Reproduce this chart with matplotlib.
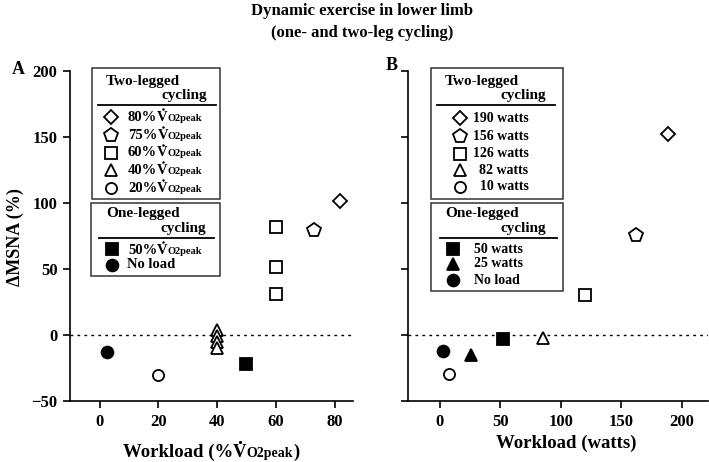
import numpy as np
import matplotlib
matplotlib.use("Agg")
import matplotlib.pyplot as plt
from matplotlib.lines import Line2D
from matplotlib.patches import Rectangle

plt.rcParams['font.family'] = ['Liberation Serif', 'DejaVu Serif']
plt.rcParams['font.weight'] = 'bold'

W, H = 709, 462

# ---- data: panel A (workload in %VO2peak) ----
a_two_80_x, a_two_80_y = [82], [102]
a_two_75_x, a_two_75_y = [73], [80]
a_two_60_x, a_two_60_y = [60, 60, 60], [82, 52, 31]
a_two_40_x, a_two_40_y = [40, 40, 40, 40], [4, -1, -5.5, -10]
a_two_20_x, a_two_20_y = [20], [-30.5]
a_one_50_x, a_one_50_y = [50], [-22]
a_one_nl_x, a_one_nl_y = [2.5], [-13]
a_xticks = [0, 20, 40, 60, 80]

# ---- data: panel B (workload in watts) ----
b_two_190_x, b_two_190_y = [189], [152.5]
b_two_156_x, b_two_156_y = [162], [76]
b_two_126_x, b_two_126_y = [120], [30.5]
b_two_82_x, b_two_82_y = [85], [-2]
b_two_10_x, b_two_10_y = [7.5], [-29.5]
b_one_50_x, b_one_50_y = [52], [-3]
b_one_25_x, b_one_25_y = [26], [-15]
b_one_nl_x, b_one_nl_y = [2.5], [-12]
b_xticks = [0, 50, 100, 150, 200]

yticks = [-50, 0, 50, 100, 150, 200]

a_two_labels = ["80%", "75%", "60%", "40%", "20%"]
b_two_labels = ["190 watts", "156 watts", "126 watts", "82 watts", "10 watts"]
b_one_labels = ["50 watts", "25 watts", "No load"]

# marker styles (marker, size, filled)
ST = {
    'dia': ('D', 7.2, False),
    'pent': ('p', 10.5, False),
    'sq': ('s', 8.5, False),
    'tri': ('^', 9.0, False),
    'circ': ('o', 8.0, False),
    'fsq': ('s', 8.5, True),
    'ftri': ('^', 8.5, True),
    'fcirc': ('o', 8.5, True),
}


def fx(px):
    return px / W


def fy(py):
    return 1 - py / H


def mk(key):
    m, s, filled = ST[key]
    return dict(marker=m, markersize=s, markeredgewidth=1.3, markeredgecolor='black',
                markerfacecolor='black' if filled else 'white', linestyle='none')


fig = plt.figure(figsize=(W / 100, H / 100), dpi=100)
fig.patch.set_facecolor('white')

axA = fig.add_axes([fx(70), fy(401), fx(353) - fx(70), fy(71.5) - fy(401)])
axB = fig.add_axes([fx(408), fy(401), fx(708) - fx(408), fy(71.5) - fy(401)])

for ax in (axA, axB):
    ax.set_ylim(-50, 200)
    ax.set_yticks(yticks)
    ax.spines['top'].set_visible(False)
    ax.spines['right'].set_visible(False)
    ax.spines['left'].set_linewidth(1.2)
    ax.spines['bottom'].set_linewidth(1.2)
    ax.tick_params(direction='out', length=5, width=1.2, labelsize=12, pad=4)
    ax.axhline(0, color='black', lw=1, ls=(0, (2, 3)), zorder=1)

axA.set_xlim(-10.1, 86.3)
axA.set_xticks(a_xticks)
axB.set_xlim(-26.4, 221.7)
axB.set_xticks(b_xticks)
axB.set_yticklabels([])
for ax in (axA, axB):
    for lab in ax.get_xticklabels() + ax.get_yticklabels():
        lab.set_fontweight('bold')

# panel A points
axA.plot(a_two_80_x, a_two_80_y, **mk('dia'), zorder=3)
axA.plot(a_two_75_x, a_two_75_y, **mk('pent'), zorder=3)
axA.plot(a_two_60_x, a_two_60_y, **mk('sq'), zorder=3)
axA.plot(a_two_40_x, a_two_40_y, **mk('tri'), zorder=3)
axA.plot(a_two_20_x, a_two_20_y, **mk('circ'), zorder=3)
axA.plot(a_one_50_x, a_one_50_y, **mk('fsq'), zorder=3)
axA.plot(a_one_nl_x, a_one_nl_y, **mk('fcirc'), zorder=3)

# panel B points
axB.plot(b_two_190_x, b_two_190_y, **mk('dia'), zorder=3)
axB.plot(b_two_156_x, b_two_156_y, **mk('pent'), zorder=3)
axB.plot(b_two_126_x, b_two_126_y, **mk('sq'), zorder=3)
axB.plot(b_two_82_x, b_two_82_y, **mk('tri'), zorder=3)
axB.plot(b_two_10_x, b_two_10_y, **mk('circ'), zorder=3)
axB.plot(b_one_50_x, b_one_50_y, **mk('fsq'), zorder=3)
axB.plot(b_one_25_x, b_one_25_y, **mk('ftri'), zorder=3)
axB.plot(b_one_nl_x, b_one_nl_y, **mk('fcirc'), zorder=3)

renderer = fig.canvas.get_renderer()


def rich(px, py, parts, ha='left'):
    """parts: list of (string, fontsize, dotted); py is the baseline in pixels"""
    texts = []
    for s, size, dot in parts:
        t = fig.text(0, fy(py), s, fontsize=size, fontweight='bold', va='baseline', ha='left')
        texts.append(t)
    widths = [t.get_window_extent(renderer).width for t in texts]
    total = sum(widths)
    start = px - total / 2 if ha == 'center' else (px - total if ha == 'right' else px)
    for t, w, (s, size, dot) in zip(texts, widths, parts):
        t.set_x(fx(start))
        if dot:
            # overdot of V-dot, drawn as a small round mark
            em = size * 100 / 72
            fig.add_artist(Line2D([fx(start + w / 2 + 0.5)], [fy(py - 0.8 * em)],
                                  transform=fig.transFigure, marker='o', markersize=size * 0.17,
                                  color='black', markeredgewidth=0, linestyle='none'))
        start += w
    return texts


def vo2(px, py, pre, big=10.5, small=7.5):
    rich(px, py, [(pre, big, False), ("V", big, True), ("O2peak", small, False)])


def box(x0, y0, x1, y1):
    fig.add_artist(Rectangle((fx(x0), fy(y1)), fx(x1) - fx(x0), fy(y0) - fy(y1),
                             transform=fig.transFigure, fill=False, edgecolor='#333333', lw=1.1))


def hline(x0, x1, py):
    fig.add_artist(Line2D([fx(x0), fx(x1)], [fy(py), fy(py)], transform=fig.transFigure,
                          color='black', lw=1.3))


def legmark(px, py, key):
    fig.add_artist(Line2D([fx(px)], [fy(py)], transform=fig.transFigure, **mk(key)))


def header(x_left, x_right, y1, y2, first):
    fig.text(fx(x_left), fy(y1), first, fontsize=11, fontweight='bold', ha='left', va='center')
    fig.text(fx(x_right), fy(y2), "cycling", fontsize=11, fontweight='bold', ha='right', va='center')


# ---- legend boxes panel A ----
rowsA = [117, 135, 152.5, 170, 187.5]
box(92, 68, 220, 199)
header(106, 207, 81, 95, "Two-legged")
hline(98, 216, 105)
for y, key, lab in zip(rowsA, ['dia', 'pent', 'sq', 'tri', 'circ'], a_two_labels):
    legmark(111, y, key)
    vo2(128, y + 4, lab)

box(91, 203, 220, 276)
header(106, 206, 214, 228.5, "One-legged")
hline(99, 214, 237.5)
legmark(111.5, 249.5, 'fsq')
vo2(128, 253.5, "50%")
legmark(111.5, 265, 'fcirc')
fig.text(fx(127), fy(265), "No load", fontsize=10.5, fontweight='bold', ha='left', va='center')

# ---- legend boxes panel B ----
rowsB = [118, 136, 153.5, 170, 187]
box(431, 68, 563, 199)
header(445, 546, 81, 95, "Two-legged")
hline(437, 555, 105)
for y, key, lab in zip(rowsB, ['dia', 'pent', 'sq', 'tri', 'circ'], b_two_labels):
    legmark(460, y, key)
    fig.text(fx(528.5), fy(y), lab, fontsize=10, fontweight='bold', ha='right', va='center')

box(431, 203, 563, 291)
header(445, 546, 214, 228.5, "One-legged")
hline(440, 557, 237.5)
for y, key, lab in zip([249.5, 263.5, 280], ['fsq', 'ftri', 'fcirc'], b_one_labels):
    legmark(453, y, key)
    fig.text(fx(474), fy(y), lab, fontsize=10, fontweight='bold', ha='left', va='center')

# ---- titles and labels ----
fig.text(fx(362), fy(11), "Dynamic exercise in lower limb", fontsize=12, fontweight='bold',
         ha='center', va='center')
fig.text(fx(362), fy(33), "(one- and two-leg cycling)", fontsize=12, fontweight='bold',
         ha='center', va='center')
fig.text(fx(18), fy(69), "A", fontsize=13, fontweight='bold', ha='center', va='center')
fig.text(fx(392), fy(66), "B", fontsize=13, fontweight='bold', ha='center', va='center')
fig.text(fx(15), fy(237), "ΔMSNA (%)", fontsize=13, fontweight='bold', rotation=90,
         ha='center', va='center')

rich(211, 457, [("Workload (%", 13.5, False), ("V", 13.5, True), ("O2peak", 10, False),
                (")", 13.5, False)], ha='center')
fig.text(fx(566), fy(443), "Workload (watts)", fontsize=13.5, fontweight='bold', ha='center', va='center')

fig.savefig("out.png", dpi=100, facecolor='white')
